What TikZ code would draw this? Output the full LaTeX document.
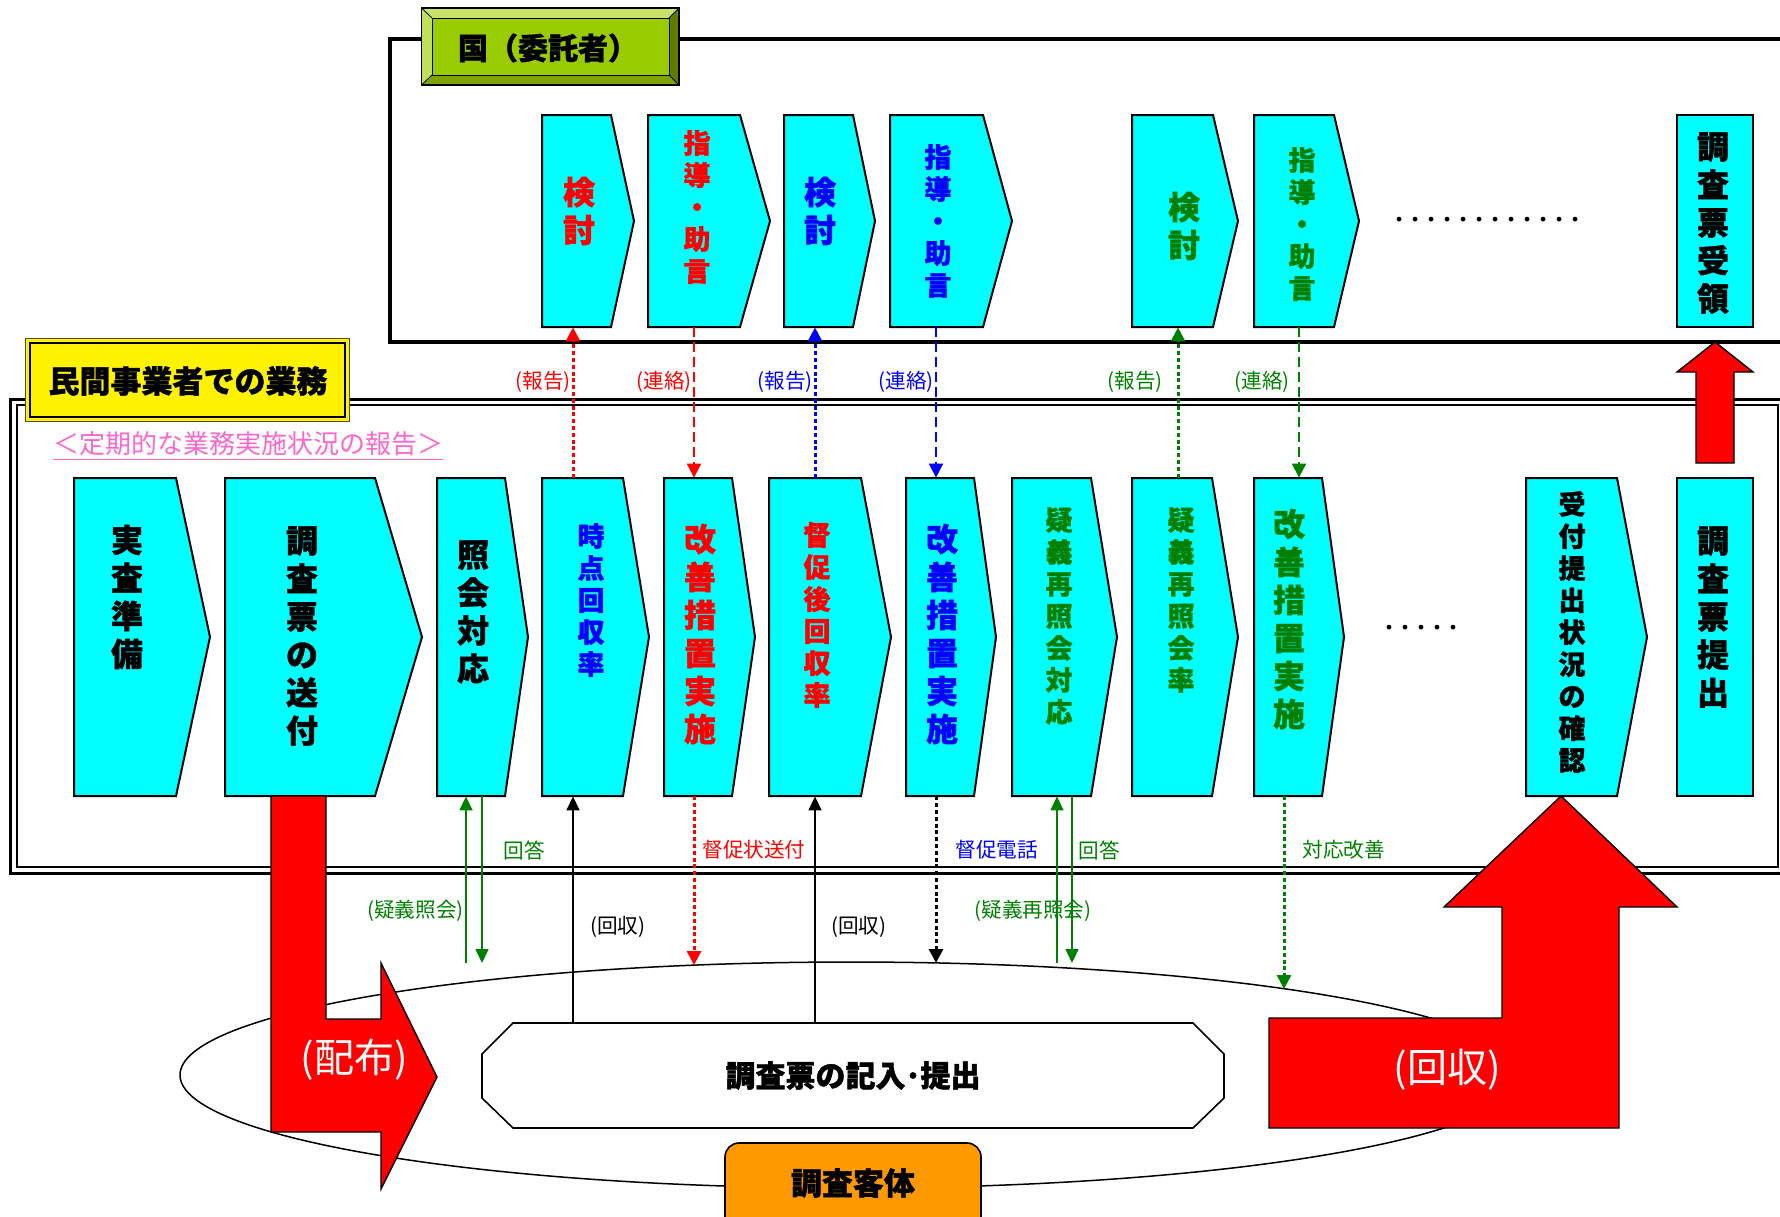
\documentclass[tikz,border=0pt]{standalone}
\usepackage{fontspec}
\setmainfont{Noto Sans CJK JP}[BoldFeatures={FakeBold=1.3}]
\usetikzlibrary{arrows.meta,fit,shapes.geometric}
\definecolor{cy}{HTML}{00FFFF}
\definecolor{gr}{HTML}{008000}
\definecolor{bl}{HTML}{0000FF}
\definecolor{rd}{HTML}{FF0000}
\definecolor{pk}{HTML}{FF66CC}
\definecolor{org}{HTML}{FF9900}
\definecolor{olv}{HTML}{99CC00}
\definecolor{olvL}{HTML}{C8E26A}
\definecolor{olvD}{HTML}{5E7D00}
\definecolor{olvM}{HTML}{7FA300}
\newcommand\chev[6]{%
  \draw[cbox] (#2,#5) -- (#3,#5) -- (#4,{(#5+#6)/2}) -- (#3,#6) -- (#2,#6) -- cycle;
  \coordinate (#1-a) at (#2,#5);
  \coordinate (#1-b) at (#4,#6);
  \node[fit=(#1-a)(#1-b), inner sep=0pt] (#1) {};}
\newcommand\rbox[5]{%
  \draw[cbox] (#2,#4) rectangle (#3,#5);
  \coordinate (#1-a) at (#2,#4);
  \coordinate (#1-b) at (#3,#5);
  \node[fit=(#1-a)(#1-b), inner sep=0pt] (#1) {};}
\begin{document}
\begin{tikzpicture}[x=0.5pt,y=-0.5pt,
  cbox/.style={draw=black, line width=1pt, fill=cy, line join=miter},
  bigt/.style={font=\bfseries\fontsize{16}{19}\selectfont, align=center, inner sep=0pt},
  smt/.style={font=\bfseries\fontsize{13.5}{16}\selectfont, align=center, inner sep=0pt},
  lab/.style={font=\fontsize{10.3}{12}\selectfont, inner sep=0pt},
  rep/.style={line width=1.5pt, dash pattern=on 2pt off 1.4pt, -{Triangle[length=7pt,width=7pt]}},
  con/.style={line width=0.9pt, dash pattern=on 5pt off 2.5pt, -{Triangle[length=7pt,width=7pt]}},
  sol/.style={line width=0.75pt, -{Triangle[length=7pt,width=6.5pt]}},
  bigarrow/.style={fill=rd, draw=black, line width=0.7pt, line join=miter},
  biglab/.style={font=\fontsize{20}{24}\selectfont, text=white, inner sep=0pt}
]
\useasboundingbox (0,0) rectangle (1780,1216);
\clip (0,0) rectangle (1780,1216);
% ---------- frames
\draw[line width=1.8pt] (390,39) rectangle (1800,342);
\draw[line width=1.5pt] (10,399) rectangle (1800,873);
\draw[line width=0.75pt] (17,405) rectangle (1778,867);
% ---------- label: 国（委託者）
\fill[olvL] (421.5,8) -- (679,8) -- (669,18) -- (432,18) -- cycle;
\fill[olvL!85!olv] (421.5,8) -- (432,18) -- (432,75) -- (421.5,85) -- cycle;
\fill[olvD] (679,8) -- (679,85) -- (669,75) -- (669,18) -- cycle;
\fill[olvM] (421.5,85) -- (432,75) -- (669,75) -- (679,85) -- cycle;
\fill[olv] (432,18) rectangle (669,75);
\draw[line width=0.4pt] (421.5,8) -- (432,18) (679,8) -- (669,18) (421.5,85) -- (432,75) (679,85) -- (669,75);
\draw[line width=0.4pt] (432,18) rectangle (669,75);
\draw[line width=0.9pt] (421.5,8) rectangle (679,85);
\node[font=\bfseries\fontsize{15}{18}\selectfont, inner sep=0pt] (lblA) at (548,48) {国（委託者）};
% ---------- label: 民間事業者での業務
\draw[fill=yellow, draw=black!70, line width=0.5pt] (25,338) rectangle (349,421);
\draw[line width=1.3pt] (30,343) rectangle (345,417);
\node[font=\bfseries\fontsize{15.5}{18}\selectfont, inner sep=0pt] (lblB) at (188,381) {民間事業者での業務};
\node[font=\fontsize{13}{15}\selectfont, text=pk, inner sep=0pt] (rpt) at (248,446) {\underline{＜定期的な業務実施状況の報告＞}};
% ---------- ellipse and octagon
\node[draw, ellipse, line width=0.75pt, minimum width=671pt, minimum height=113pt, inner sep=0pt] (ell) at (851,1075) {};
\draw[line width=0.8pt, fill=white] (513,1023) -- (1193,1023) -- (1224,1054) -- (1224,1098) -- (1193,1128) -- (513,1128) -- (482,1098) -- (482,1054) -- cycle;
\node[minimum width=371pt, minimum height=52.5pt, inner sep=0pt, font=\bfseries\fontsize{15}{18}\selectfont] (oct) at (853,1075.5) {調査票の記入･提出};
% ---------- upper boxes
\chev{u1}{542}{611}{634}{115}{327}
\chev{u2}{648}{740}{770}{115}{327}
\chev{u3}{784}{853}{875}{115}{327}
\chev{u4}{890}{983}{1012}{115}{327}
\chev{u5}{1132}{1213}{1238}{115}{327}
\chev{u6}{1254}{1334}{1359}{115}{327}
\rbox{u7}{1677}{1753}{115}{327}
\node[bigt, text=rd] (u1t) at (579,211) {検\\討};
\node[smt, text=rd] (u2t) at (697,207) {指\\導\\・\\助\\言};
\node[bigt, text=bl] (u3t) at (820,211) {検\\討};
\node[smt, text=bl] (u4t) at (938,221) {指\\導\\・\\助\\言};
\node[bigt, text=gr] (u5t) at (1184,226) {検\\討};
\node[smt, text=gr] (u6t) at (1302,224) {指\\導\\・\\助\\言};
\node[bigt] (u7t) at (1713,223) {調\\査\\票\\受\\領};
\node[font=\bfseries\fontsize{8}{8}\selectfont, inner sep=0pt] (dots1) at (1487,221) {・・・・・・・・・・・・};
% ---------- lower boxes
\chev{l1}{74}{176}{210}{478}{796}
\chev{l2}{225}{375}{422}{478}{796}
\chev{l3}{437}{505}{528}{478}{796}
\chev{l4}{542}{623}{649}{478}{796}
\chev{l5}{664}{732}{755}{478}{796}
\chev{l6}{769}{861}{891}{478}{796}
\chev{l7}{906}{974}{996}{478}{796}
\chev{l8}{1012}{1091}{1117}{478}{796}
\chev{l9}{1132}{1212}{1238}{478}{796}
\chev{l10}{1254}{1322}{1344}{478}{796}
\chev{l11}{1526}{1617}{1647}{478}{796}
\rbox{l12}{1677}{1753}{478}{796}
\node[bigt] (l1t) at (127,597) {実\\査\\準\\備};
\node[bigt] (l2t) at (302,636) {調\\査\\票\\の\\送\\付};
\node[bigt] (l3t) at (473,612) {照\\会\\対\\応};
\node[smt, text=bl] (l4t) at (591,600) {時\\点\\回\\収\\率};
\node[bigt, text=rd] (l5t) at (700,634) {改\\善\\措\\置\\実\\施};
\node[smt, text=rd] (l6t) at (817,615) {督\\促\\後\\回\\収\\率};
\node[bigt, text=bl] (l7t) at (942,634) {改\\善\\措\\置\\実\\施};
\node[smt, text=gr] (l8t) at (1059,616) {疑\\義\\再\\照\\会\\対\\応};
\node[smt, text=gr] (l9t) at (1181,600) {疑\\義\\再\\照\\会\\率};
\node[bigt, text=gr] (l10t) at (1289,619) {改\\善\\措\\置\\実\\施};
\node[smt] (l11t) at (1572,632) {受\\付\\提\\出\\状\\況\\の\\確\\認};
\node[bigt] (l12t) at (1713,617) {調\\査\\票\\提\\出};
\node[font=\bfseries\fontsize{8}{8}\selectfont, inner sep=0pt] (dots2) at (1421,629) {・・・・・};
% ---------- x positions of connectors
\coordinate (xr1) at (573,0);
\coordinate (xr2) at (694,0);
\coordinate (xb1) at (815,0);
\coordinate (xb2) at (936,0);
\coordinate (xg1) at (1178,0);
\coordinate (xg2) at (1299,0);
% ---------- upper connectors
\draw[rep, rd] (l4.north -| xr1) -- (u1.south -| xr1);
\draw[con, rd] (u2.south -| xr2) -- (l5.north -| xr2);
\draw[rep, bl] (l6.north -| xb1) -- (u3.south -| xb1);
\draw[con, bl] (u4.south -| xb2) -- (l7.north -| xb2);
\draw[rep, gr] (l9.north -| xg1) -- (u5.south -| xg1);
\draw[con, gr] (u6.south -| xg2) -- (l10.north -| xg2);
\node[lab, text=rd, anchor=east] (tr1) at (571,382) {(報告)};
\node[lab, text=rd, anchor=east] (tr2) at (692,382) {(連絡)};
\node[lab, text=bl, anchor=east] (tb1) at (813,382) {(報告)};
\node[lab, text=bl, anchor=east] (tb2) at (934,382) {(連絡)};
\node[lab, text=gr, anchor=east] (tg1) at (1163,382) {(報告)};
\node[lab, text=gr, anchor=east] (tg2) at (1290,382) {(連絡)};
% ---------- lower connectors
\coordinate (q1e) at (466,963);
\coordinate (q2e) at (482,963);
\coordinate (e1) at (694,965);
\coordinate (e2) at (936,963);
\coordinate (q3e) at (1057,963);
\coordinate (q4e) at (1072,963);
\coordinate (e3) at (1284,989);
\draw[sol, gr] (q1e) -- (l3.south -| q1e);
\draw[sol, gr] (l3.south -| q2e) -- (q2e);
\draw[sol] (oct.north -| xr1) -- (l4.south -| xr1);
\draw[rep, rd] (l5.south -| e1) -- (e1);
\draw[sol] (oct.north -| xb1) -- (l6.south -| xb1);
\draw[rep] (l7.south -| e2) -- (e2);
\draw[sol, gr] (q3e) -- (l8.south -| q3e);
\draw[sol, gr] (l8.south -| q4e) -- (q4e);
\draw[rep, gr] (l10.south -| e3) -- (e3);
\node[lab, text=gr, anchor=west] (ta1) at (503,850) {回答};
\node[lab, text=rd, anchor=west] (ta2) at (702,850) {督促状送付};
\node[lab, text=bl, anchor=west] (ta3) at (955,850) {督促電話};
\node[lab, text=gr, anchor=west] (ta4) at (1078,850) {回答};
\node[lab, text=gr, anchor=west] (ta5) at (1302,850) {対応改善};
\node[lab, text=gr, anchor=east] (tq1) at (464,911) {(疑義照会)};
\node[lab, text=gr] (tq2) at (1033,911) {(疑義再照会)};
\node[lab, anchor=west] (tc1) at (590,927) {(回収)};
\node[lab, anchor=west] (tc2) at (831,927) {(回収)};
% ---------- big arrows
\draw[bigarrow] (271,796) -- (326,796) -- (326,1019) -- (381,1019) -- (381,963) -- (437,1077) -- (381,1189) -- (381,1132) -- (271,1132) -- cycle;
\node[biglab] (dist) at (354,1060) {(配布)};
\draw[bigarrow] (1561,796) -- (1677,907) -- (1619,907) -- (1619,1128) -- (1269,1128) -- (1269,1018) -- (1502,1018) -- (1502,907) -- (1444,907) -- cycle;
\node[biglab] (coll) at (1447,1070) {(回収)};
\draw[bigarrow] (1715,342) -- (1753,372) -- (1734,372) -- (1734,463) -- (1696,463) -- (1696,372) -- (1677,372) -- cycle;
% ---------- survey subject
\draw[fill=org, line width=0.8pt, rounded corners=7pt] (725,1250) -- (725,1143) -- (981,1143) -- (981,1250);
\node[font=\bfseries\fontsize{15.5}{18}\selectfont, inner sep=0pt] (obj) at (853,1183) {調査客体};
\end{tikzpicture}
\end{document}
